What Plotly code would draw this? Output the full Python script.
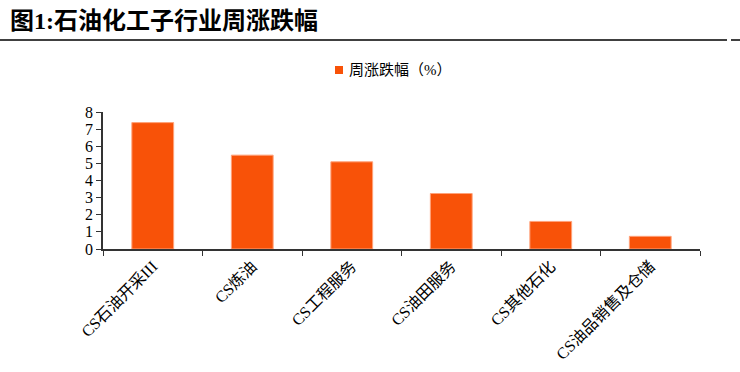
import plotly.graph_objects as go

categories = ["CS石油开采III", "CS炼油", "CS工程服务", "CS油田服务", "CS其他石化", "CS油品销售及仓储"]
values = [7.38, 5.48, 5.09, 3.24, 1.61, 0.74]
series_name = "周涨跌幅（%）"
title_text = "图1:石油化工子行业周涨跌幅"

font_main = "Liberation Serif, Noto Sans CJK SC"
bar_color = "#F85208"

W, H = 740, 372
ML, MR, MT, MB = 103, 40, 112, 123
plot_h = H - MT - MB
plot_w = W - ML - MR
def py(px_from_top):
    return (H - MB - px_from_top) / plot_h
def px(x_pix):
    return (x_pix - ML) / plot_w

fig = go.Figure()
fig.add_trace(go.Bar(
    x=categories, y=values, name=series_name,
    marker=dict(color=bar_color, line=dict(color="#FFA27A", width=1)),
    showlegend=False,
))

fig.update_layout(
    width=W, height=H,
    margin=dict(l=ML, r=MR, t=MT, b=MB, autoexpand=False),
    paper_bgcolor="white", plot_bgcolor="white",
    bargap=0.58,
    font=dict(family=font_main, size=15, color="#000000"),
    showlegend=False,
    xaxis=dict(
        type="category", showline=True, linecolor="#333333", linewidth=1.5,
        ticks="outside", tickson="boundaries", ticklen=5, tickcolor="#333333",
        tickangle=-45, tickfont=dict(family=font_main, size=16),
        showgrid=False, zeroline=False,
    ),
    yaxis=dict(
        range=[0, 8], dtick=1, showline=True, linecolor="#333333", linewidth=1.5,
        ticks="outside", ticklen=5, tickcolor="#333333",
        tickfont=dict(family=font_main, size=16),
        showgrid=False, zeroline=False,
    ),
    annotations=[
        dict(text="<b>" + title_text + "</b>", xref="paper", yref="paper",
             x=px(8), y=py(21), xanchor="left", yanchor="middle", showarrow=False,
             font=dict(family=font_main, size=24, color="#000000")),
        dict(text=series_name, xref="paper", yref="paper",
             x=px(347), y=py(70), xanchor="left", yanchor="middle", showarrow=False,
             font=dict(family=font_main, size=15, color="#000000")),
    ],
    shapes=[
        dict(type="line", xref="paper", yref="paper", x0=px(0), x1=px(727), y0=py(40), y1=py(40),
             line=dict(color="#000000", width=1.5)),
        dict(type="line", xref="paper", yref="paper", x0=px(731), x1=px(740), y0=py(40), y1=py(40),
             line=dict(color="#000000", width=1.5)),
        dict(type="rect", xref="paper", yref="paper", x0=px(335), x1=px(343), y0=py(74), y1=py(66),
             fillcolor=bar_color, line=dict(width=0)),
    ],
)

fig.write_html("out.html")
